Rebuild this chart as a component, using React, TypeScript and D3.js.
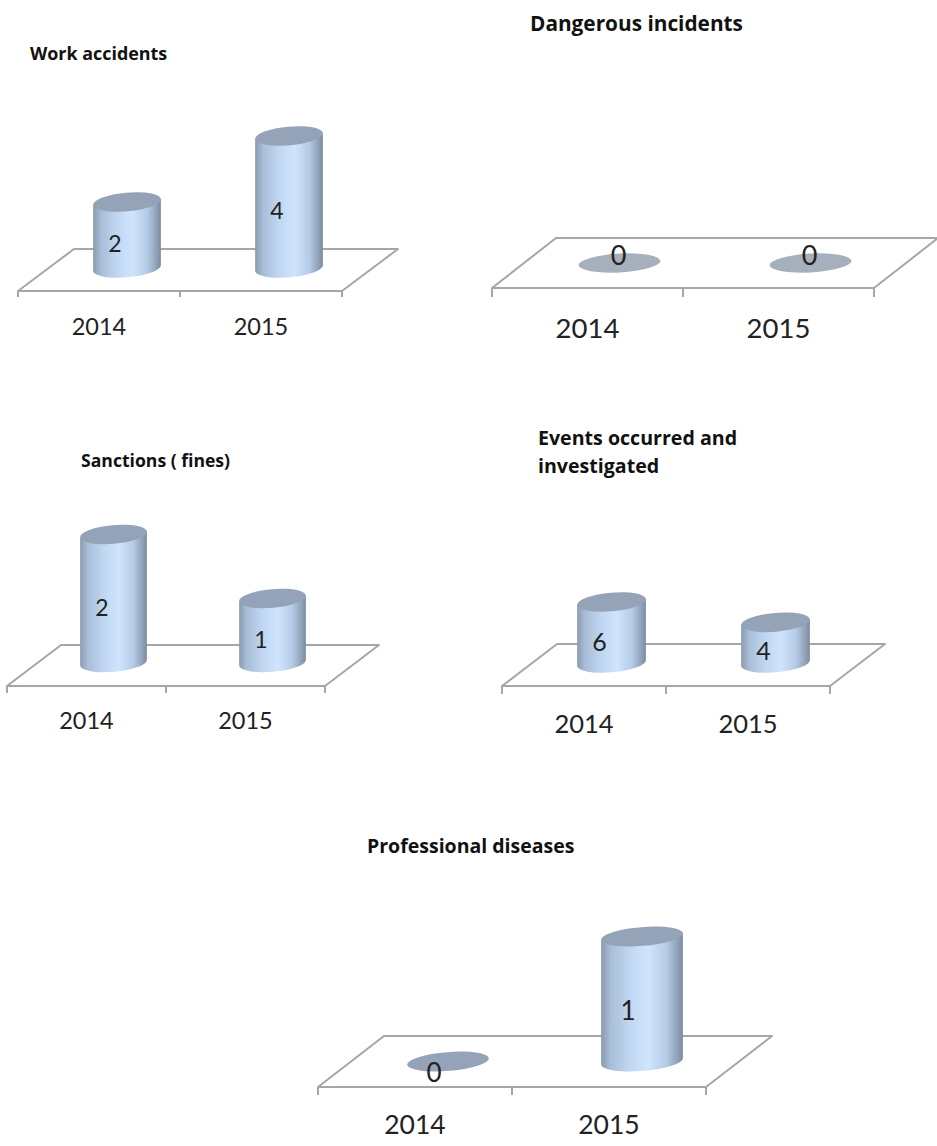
import React from "react";
import * as d3 from "d3";

// Chart values, one list per panel
const years = ["2014", "2015"];
const workAccidents = [2, 4];
const dangerousIncidents = [0, 0];
const sanctions = [2, 1];
const eventsInvestigated = [6, 4];
const professionalDiseases = [0, 1];

const FONT = "Lato, Carlito, 'Open Sans', sans-serif";
const TITLE_FONT = "'Open Sans', Lato, sans-serif";
const INK = "#222222";
const GRID = "#a6a6a6";

// Placement of each small 3D panel on the sheet
const panels = [
  {
    title: ["Work accidents"], titleX: 30, titleY: [60], titleSize: 17.9,
    values: workAccidents, x0: 18, x1: 342, frontY: 291, dx: 56, dy: 42, tick: 6,
    rx: 34, baseLift: 2, span: 132, yearSize: 23.5, yearY: 335, valueSize: 23,
    shift: [[-12, 9], [-12, 9]], lidColor: "#94a3b7", tilt: 5,
  },
  {
    title: ["Dangerous incidents"], titleX: 530, titleY: [31], titleSize: 20.8,
    values: dangerousIncidents, x0: 492, x1: 874, frontY: 288, dx: 64, dy: 50, tick: 9,
    rx: 41, baseLift: 0, span: 100, yearSize: 27.5, yearY: 338, valueSize: 27,
    shift: [[-1, -8], [-1, -8]], lidColor: "#a6b0bc", tilt: 3,
  },
  {
    title: ["Sanctions ( fines)"], titleX: 81, titleY: [467], titleSize: 17.6,
    values: sanctions, x0: 7, x1: 325, frontY: 686, dx: 54, dy: 41, tick: 7,
    rx: 33.5, baseLift: 3, span: 128, yearSize: 23.5, yearY: 729, valueSize: 23,
    shift: [[-11.5, 9], [-11.5, 9]], lidColor: "#94a3b7", tilt: 5,
  },
  {
    title: ["Events occurred and", "investigated"], titleX: 538, titleY: [445, 473], titleSize: 19.6,
    values: eventsInvestigated, x0: 502, x1: 830, frontY: 686, dx: 55, dy: 42, tick: 8,
    rx: 34.5, baseLift: 2, span: 61, yearSize: 25.5, yearY: 733, valueSize: 25,
    shift: [[-12, 9.5], [-12, 8]], lidColor: "#94a3b7", tilt: 5,
  },
  {
    title: ["Professional diseases"], titleX: 367, titleY: [853], titleSize: 19.5,
    values: professionalDiseases, x0: 318, x1: 706, frontY: 1087, dx: 66, dy: 51, tick: 8,
    rx: 41, baseLift: 0, span: 125, yearSize: 26.5, yearY: 1134, valueSize: 26,
    shift: [[-14, 11.5], [-14, 12]], lidColor: "#94a3b7", tilt: 4.5,
  },
];

type Panel = (typeof panels)[number];

const RY = 9.4;

function Cylinder({ cx, base, height, rx, tilt, lid }: { cx: number; base: number; height: number; rx: number; tilt: number; lid: string }) {
  const rad = (tilt * Math.PI) / 180;
  const ax = rx * Math.cos(rad);
  const ay = rx * Math.sin(rad);
  const top = base - height;
  const body = `M${cx - ax},${top + ay}L${cx - ax},${base + ay}A${rx},${RY} ${-tilt} 0 0 ${cx + ax},${base - ay}L${cx + ax},${top - ay}Z`;
  return (
    <g>
      {height > 0 && <path d={body} fill="url(#cylinderBody)" />}
      <ellipse cx={cx} cy={top} rx={rx} ry={RY} fill={lid} transform={`rotate(${-tilt} ${cx} ${top})`} />
    </g>
  );
}

function MiniChart({ p }: { p: Panel }) {
  const x = d3.scaleBand<string>().domain(years).range([p.x0, p.x1]);
  const maxValue = d3.max(p.values) || 1;
  const y = d3.scaleLinear().domain([0, maxValue]).range([0, p.span]);
  const floor = [
    [p.x0, p.frontY],
    [p.x1, p.frontY],
    [p.x1 + p.dx, p.frontY - p.dy],
    [p.x0 + p.dx, p.frontY - p.dy],
  ] as [number, number][];
  const floorPath = d3.line()(floor) + "Z";
  const tickXs = [p.x0, (x("2015") as number), p.x1];
  const base = p.frontY - p.dy / 2 - p.baseLift;
  const bw = x.bandwidth();

  return (
    <g>
      <path d={floorPath} fill="#ffffff" stroke={GRID} strokeWidth={2} strokeLinejoin="round" />
      {tickXs.map((t) => (
        <line key={t} x1={t} x2={t} y1={p.frontY} y2={p.frontY + p.tick} stroke={GRID} strokeWidth={2} />
      ))}
      {years.map((yr, i) => (
        <Cylinder
          key={yr}
          cx={(x(yr) as number) + bw / 2 + p.dx / 2}
          base={base}
          height={y(p.values[i])}
          rx={p.rx}
          tilt={p.tilt}
          lid={p.lidColor}
        />
      ))}
      {years.map((yr, i) => (
        <text
          key={yr + "-value"}
          x={(x(yr) as number) + bw / 2 + p.dx / 2 + p.shift[i][0]}
          y={base - y(p.values[i]) / 2 + p.shift[i][1]}
          dy="0.36em"
          textAnchor="middle"
          fontFamily={FONT}
          fontSize={p.valueSize}
          fill={INK}
        >
          {p.values[i]}
        </text>
      ))}
      {years.map((yr) => (
        <text
          key={yr + "-axis"}
          x={(x(yr) as number) + bw / 2}
          y={p.yearY}
          textAnchor="middle"
          fontFamily={FONT}
          fontSize={p.yearSize}
          fill={INK}
        >
          {yr}
        </text>
      ))}
      {p.title.map((line, i) => (
        <text
          key={line}
          x={p.titleX}
          y={p.titleY[i]}
          fontFamily={TITLE_FONT}
          fontWeight={700}
          fontSize={p.titleSize}
          fill="#111111"
        >
          {line}
        </text>
      ))}
    </g>
  );
}

export default function App() {
  return (
    <svg
      width={937}
      height={1146}
      viewBox="0 0 937 1146"
      style={{ position: "absolute", left: 0, top: 0, display: "block", background: "#ffffff" }}
    >
      <defs>
        <linearGradient id="cylinderBody" x1="0" x2="1" y1="0" y2="0">
          <stop offset="0" stopColor="#8b9bb0" />
          <stop offset="0.12" stopColor="#a9bed8" />
          <stop offset="0.35" stopColor="#c0d6f1" />
          <stop offset="0.58" stopColor="#d0e4fd" />
          <stop offset="0.8" stopColor="#b5cae5" />
          <stop offset="0.93" stopColor="#91a3ba" />
          <stop offset="1" stopColor="#7c8b9e" />
        </linearGradient>
      </defs>
      {panels.map((p) => (
        <MiniChart key={p.title[0]} p={p} />
      ))}
    </svg>
  );
}
